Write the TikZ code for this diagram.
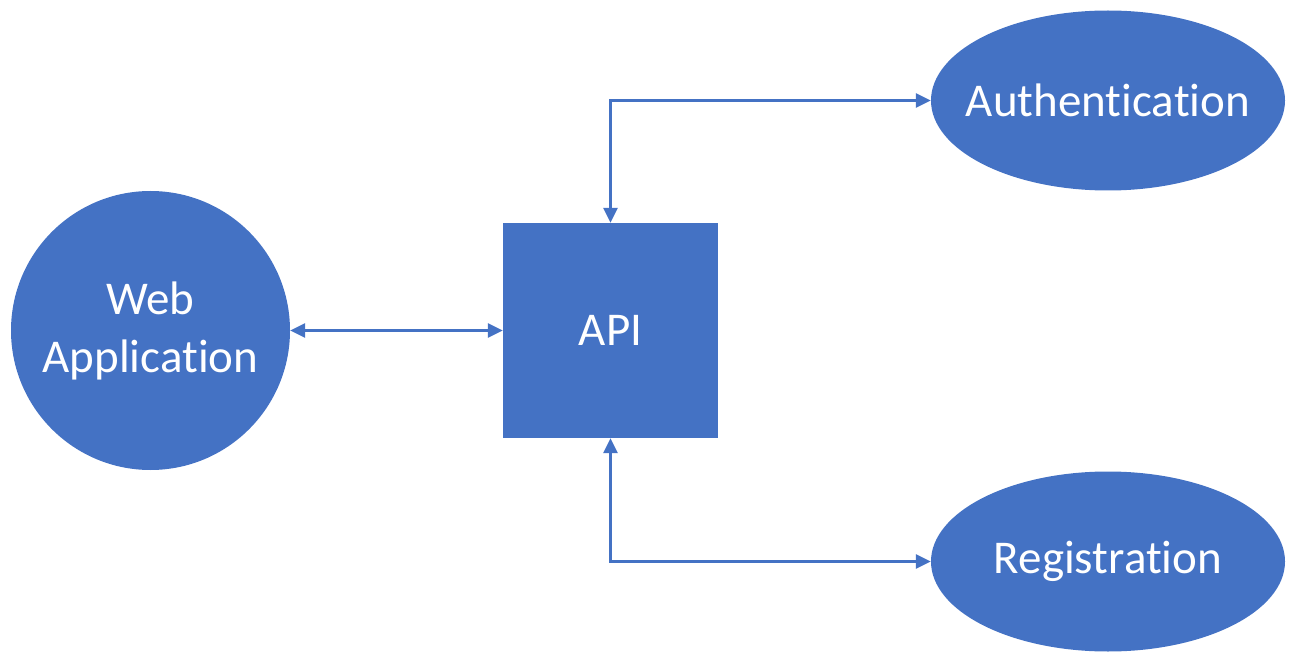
\documentclass[tikz,border=0pt]{standalone}
\usepackage{fontspec}
\setmainfont[Ligatures=NoCommon]{Carlito}
\usetikzlibrary{arrows.meta,shapes.geometric}
\definecolor{accent}{HTML}{4472C4}
\begin{document}
\begin{tikzpicture}[x=1pt,y=-1pt,
  shapebox/.style={fill=accent, draw=none, text=white,
    font=\fontsize{47}{58}\selectfont, inner sep=0pt, align=center},
  oval/.style={shapebox, ellipse, minimum width=354pt, minimum height=180pt},
  link/.style={draw=accent, line width=2.5pt,
    {Triangle[length=15pt,width=14pt]}-{Triangle[length=15pt,width=14pt]}}]
\useasboundingbox (0,0) rectangle (1296,663);
% client, service and the two back-end components
\node[shapebox, circle, minimum size=279pt] (web) at (150.5,330.5) {Web\\Application};
\node[shapebox, rectangle, minimum size=215pt] (api) at (610.5,330.5) {API};
\node[oval] (auth) at (1108,100.5) {\makebox[0pt]{Authentication}};
\node[oval] (reg) at (1108,561.5) {\makebox[0pt]{Registration}};
% two-way connectors
\draw[link] (web) -- (api);
\draw[link] (api.north) |- (auth.west);
\draw[link] (api.south) |- (reg.west);
\end{tikzpicture}
\end{document}
